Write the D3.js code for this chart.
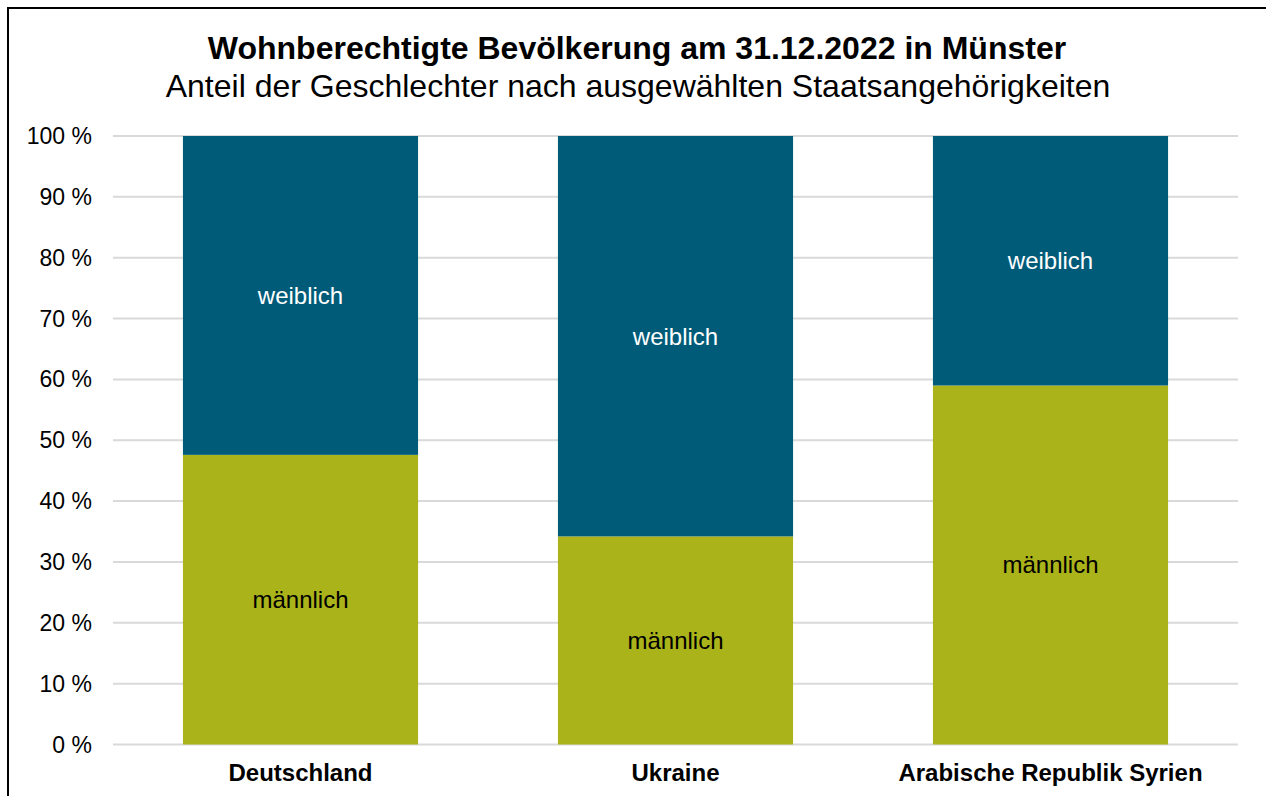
<!DOCTYPE html>
<html>
<head>
<meta charset="utf-8">
<script src="https://cdn.jsdelivr.net/npm/d3@7"></script>
<style>
  body { margin: 0; background: #fff; }
  svg { display: block; font-family: Arial, "Liberation Sans", sans-serif; }
</style>
</head>
<body>
<div id="chart"></div>
<script>
// data
const countries = ["Deutschland", "Ukraine", "Arabische Republik Syrien"]
const maennlich = [47.6, 34.2, 59.0]
const weiblich = [52.4, 65.8, 41.0]
const seriesNames = ["männlich", "weiblich"]
const yTicks = [0, 10, 20, 30, 40, 50, 60, 70, 80, 90, 100]

const width = 1266, height = 796
const margin = { top: 136, right: 28, bottom: 51, left: 113 }

const colors = { "männlich": "#aab31a", "weiblich": "#005b78" }
const labelColors = { "männlich": "#000", "weiblich": "#fff" }

const svg = d3.select("#chart").append("svg")
    .attr("width", width)
    .attr("height", height)

// frame
svg.append("rect")
    .attr("x", 8).attr("y", 8)
    .attr("width", width).attr("height", height)
    .attr("fill", "none")
    .attr("stroke", "#000")
    .attr("stroke-width", 2)

const x = d3.scaleBand()
    .domain(countries)
    .range([margin.left, width - margin.right])
    .paddingInner(0.373)
    .paddingOuter(0.1865)

const y = d3.scaleLinear()
    .domain([0, 100])
    .range([height - margin.bottom - 0.5, margin.top])

// grid
svg.append("g")
    .selectAll("line")
    .data(yTicks)
    .join("line")
    .attr("x1", margin.left)
    .attr("x2", width - margin.right)
    .attr("y1", d => y(d))
    .attr("y2", d => y(d))
    .attr("stroke", "#d9d9d9")
    .attr("stroke-width", 2)

// y labels
svg.append("g")
    .selectAll("text")
    .data(yTicks)
    .join("text")
    .attr("x", 92)
    .attr("y", d => y(d))
    .attr("dy", "0.35em")
    .attr("text-anchor", "end")
    .attr("font-size", 23)
    .attr("fill", "#000")
    .text(d => d + " %")

// stacked bars
const rows = countries.map((c, i) => ({ country: c, "männlich": maennlich[i], "weiblich": weiblich[i] }))
const stacked = d3.stack().keys(seriesNames)(rows)

const layers = svg.append("g")
    .selectAll("g")
    .data(stacked)
    .join("g")
    .attr("fill", d => colors[d.key])

layers.selectAll("rect")
    .data(d => d)
    .join("rect")
    .attr("x", d => x(d.data.country))
    .attr("width", x.bandwidth())
    .attr("y", d => y(d[1]))
    .attr("height", d => y(d[0]) - y(d[1]))

// segment labels
svg.append("g")
    .selectAll("g")
    .data(stacked)
    .join("g")
    .attr("fill", d => labelColors[d.key])
    .each(function (layer) {
        d3.select(this).selectAll("text")
            .data(layer)
            .join("text")
            .attr("x", d => x(d.data.country) + x.bandwidth() / 2)
            .attr("y", d => (y(d[0]) + y(d[1])) / 2)
            .attr("dy", "0.35em")
            .attr("text-anchor", "middle")
            .attr("font-size", 24)
            .text(layer.key)
    })

// x labels
svg.append("g")
    .selectAll("text")
    .data(countries)
    .join("text")
    .attr("x", d => x(d) + x.bandwidth() / 2)
    .attr("y", 773)
    .attr("dy", "0.35em")
    .attr("text-anchor", "middle")
    .attr("font-size", 24)
    .attr("font-weight", "bold")
    .text(d => d)

// title
svg.append("text")
    .attr("x", 637)
    .attr("y", 59)
    .attr("text-anchor", "middle")
    .attr("font-size", 32)
    .attr("font-weight", "bold")
    .text("Wohnberechtigte Bevölkerung am 31.12.2022 in Münster")

svg.append("text")
    .attr("x", 638)
    .attr("y", 97)
    .attr("text-anchor", "middle")
    .attr("font-size", 32)
    .text("Anteil der Geschlechter nach ausgewählten Staatsangehörigkeiten")
</script>
</body>
</html>
